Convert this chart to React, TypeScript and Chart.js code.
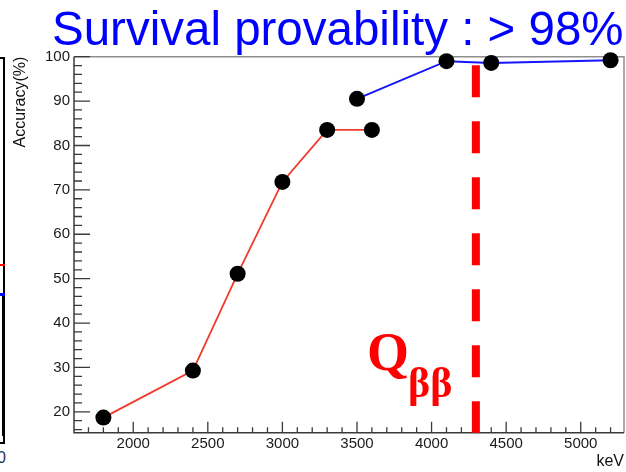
import React, { useEffect, useRef } from "react";
import { Chart, registerables } from "chart.js";

Chart.register(...registerables);

// ---- data ----
const redEnergy = [1800, 2400, 2700, 3000, 3300, 3600];
const redAccuracy = [18.7, 29.3, 51.1, 71.8, 83.5, 83.5];
const blueEnergy = [3500, 4100, 4400, 5200];
const blueAccuracy = [90.5, 99.0, 98.6, 99.2];
const qbbEnergy = 4297;
const qbbAccuracy = [98.1, 15.3];
const xTicks = [2000, 2500, 3000, 3500, 4000, 4500, 5000];
const yTicks = [20, 30, 40, 50, 60, 70, 80, 90, 100];
const xRange = [1603, 5290];
const yRange = [15.3, 100];
const titleText = "Survival provability : > 98%";
const yTitle = "Accuracy(%)";
const xTitle = "keV";

const SANS = "'Liberation Sans', Arial, Helvetica, sans-serif";
const SERIF = "'Liberation Serif', 'Times New Roman', serif";

const framePlugin = {
  id: "rootFrame",
  beforeDatasetsDraw(chart: any) {
    const { ctx, chartArea: a, scales } = chart;
    const xs = scales.x;
    const ys = scales.y;
    ctx.save();
    ctx.lineWidth = 1.5;
    ctx.strokeStyle = "#8e8e8e";
    ctx.beginPath();
    ctx.moveTo(a.left, a.top);
    ctx.lineTo(a.right, a.top);
    ctx.lineTo(a.right, a.bottom);
    ctx.stroke();
    ctx.strokeStyle = "#3a3a3a";
    ctx.beginPath();
    ctx.moveTo(a.left, a.top);
    ctx.lineTo(a.left, a.bottom);
    ctx.lineTo(a.right, a.bottom);
    ctx.stroke();
    // inward ticks
    ctx.lineWidth = 1.3;
    ctx.strokeStyle = "#3a3a3a";
    ctx.beginPath();
    for (let v = 16; v <= 100; v += 2) {
      const py = ys.getPixelForValue(v);
      const len = v % 10 === 0 ? 16 : 8;
      ctx.moveTo(a.left, py);
      ctx.lineTo(a.left + len, py);
    }
    for (let v = 1700; v <= 5200; v += 100) {
      const px = xs.getPixelForValue(v);
      const len = v % 500 === 0 ? 11 : 5.5;
      ctx.moveTo(px, a.bottom);
      ctx.lineTo(px, a.bottom - len);
    }
    ctx.stroke();
    ctx.restore();
  },
  afterDraw(chart: any) {
    const { ctx, chartArea: a } = chart;
    ctx.save();
    // title
    ctx.fillStyle = "#0000ff";
    ctx.font = `47.5px ${SANS}`;
    ctx.textAlign = "left";
    ctx.textBaseline = "alphabetic";
    ctx.fillText(titleText, 52, 45);
    // y title
    ctx.fillStyle = "#111";
    ctx.font = `16px ${SANS}`;
    ctx.save();
    ctx.translate(25, a.top);
    ctx.rotate(-Math.PI / 2);
    ctx.textAlign = "right";
    ctx.fillText(yTitle, 0, 0);
    ctx.restore();
    // x title
    ctx.textAlign = "right";
    ctx.fillText(xTitle, a.right, 466);
    // Q label
    ctx.fillStyle = "#ff0000";
    ctx.textAlign = "left";
    ctx.font = `bold 54px ${SERIF}`;
    ctx.fillText("Q", 367, 370);
    const qw = ctx.measureText("Q").width;
    ctx.font = `bold 42px ${SERIF}`;
    ctx.fillText("ββ", 366 + qw, 397);
    ctx.restore();
  },
};

export default function App() {
  const ref = useRef<HTMLCanvasElement | null>(null);
  useEffect(() => {
    if (!ref.current) return;
    const chart = new Chart(ref.current, {
      type: "scatter",
      data: {
        datasets: [
          {
            data: redEnergy.map((x, i) => ({ x, y: redAccuracy[i] })),
            showLine: true,
            borderColor: "#f03a2a",
            borderWidth: 1.8,
            pointRadius: 8,
            pointBackgroundColor: "#000",
            pointBorderColor: "#000",
            pointBorderWidth: 0,
            clip: false,
          } as any,
          {
            data: blueEnergy.map((x, i) => ({ x, y: blueAccuracy[i] })),
            showLine: true,
            borderColor: "#1414ff",
            borderWidth: 2,
            pointRadius: 8,
            pointBackgroundColor: "#000",
            pointBorderColor: "#000",
            pointBorderWidth: 0,
            clip: false,
          } as any,
          {
            data: qbbAccuracy.map((y) => ({ x: qbbEnergy, y })),
            showLine: true,
            borderColor: "#ff0000",
            borderWidth: 8,
            borderDash: [32, 24],
            borderCapStyle: "butt",
            pointRadius: 0,
            clip: false,
          } as any,
        ],
      },
      options: {
        animation: false,
        responsive: false,
        layout: { autoPadding: false, padding: { top: 56.7, right: 2, left: 0, bottom: 0 } },
        plugins: {
          legend: { display: false },
          tooltip: { enabled: false },
          title: { display: false },
        },
        scales: {
          x: {
            type: "linear",
            position: "bottom",
            min: xRange[0],
            max: xRange[1],
            afterBuildTicks: (s: any) => {
              s.ticks = xTicks.map((value) => ({ value }));
            },
            afterFit: (s: any) => {
              s.height = 39.3;
              s.paddingLeft = 0;
              s.paddingRight = 0;
            },
            grid: { display: false, drawTicks: false },
            border: { display: false },
            ticks: {
              font: { family: SANS, size: 15 },
              color: "#1a1a1a",
              padding: 2,
              maxRotation: 0,
              autoSkip: false,
              callback: (v: any) => String(v),
            },
          },
          y: {
            type: "linear",
            min: yRange[0],
            max: yRange[1],
            afterBuildTicks: (s: any) => {
              s.ticks = yTicks.map((value) => ({ value }));
            },
            afterFit: (s: any) => {
              s.width = 74;
              s.paddingTop = 0;
              s.paddingBottom = 0;
            },
            grid: { display: false, drawTicks: false },
            border: { display: false },
            ticks: {
              font: { family: SANS, size: 15 },
              color: "#1a1a1a",
              padding: 4,
              autoSkip: false,
              callback: (v: any) => String(v),
            },
          },
        },
      },
      plugins: [framePlugin],
    });
    return () => chart.destroy();
  }, []);

  return (
    <div style={{ position: "fixed", left: 0, top: 0, width: 626, height: 472, background: "#fff", overflow: "hidden" }}>
      {/* fragment of the neighbouring panel, cut off on the left */}
      <div style={{ position: "absolute", left: -2, top: 57, width: 5, height: 383, borderRight: "2px solid #000", borderTop: "2px solid #000", borderBottom: "2px solid #000" }} />
      <div style={{ position: "absolute", left: 0, top: 264, width: 5, height: 2, background: "#ff0000" }} />
      <div style={{ position: "absolute", left: 0, top: 293, width: 5, height: 3, background: "#0000ff" }} />
      <div style={{ position: "absolute", left: 2, top: 296, width: 1.5, height: 140, background: "#000" }} />
      <span style={{ position: "absolute", left: -3, top: 449, fontFamily: SANS, fontSize: 16, color: "#1c2f4a", lineHeight: "18px" }}>0</span>
      <canvas ref={ref} width={626} height={472} style={{ position: "absolute", left: 0, top: 0, width: 626, height: 472 }} />
    </div>
  );
}
